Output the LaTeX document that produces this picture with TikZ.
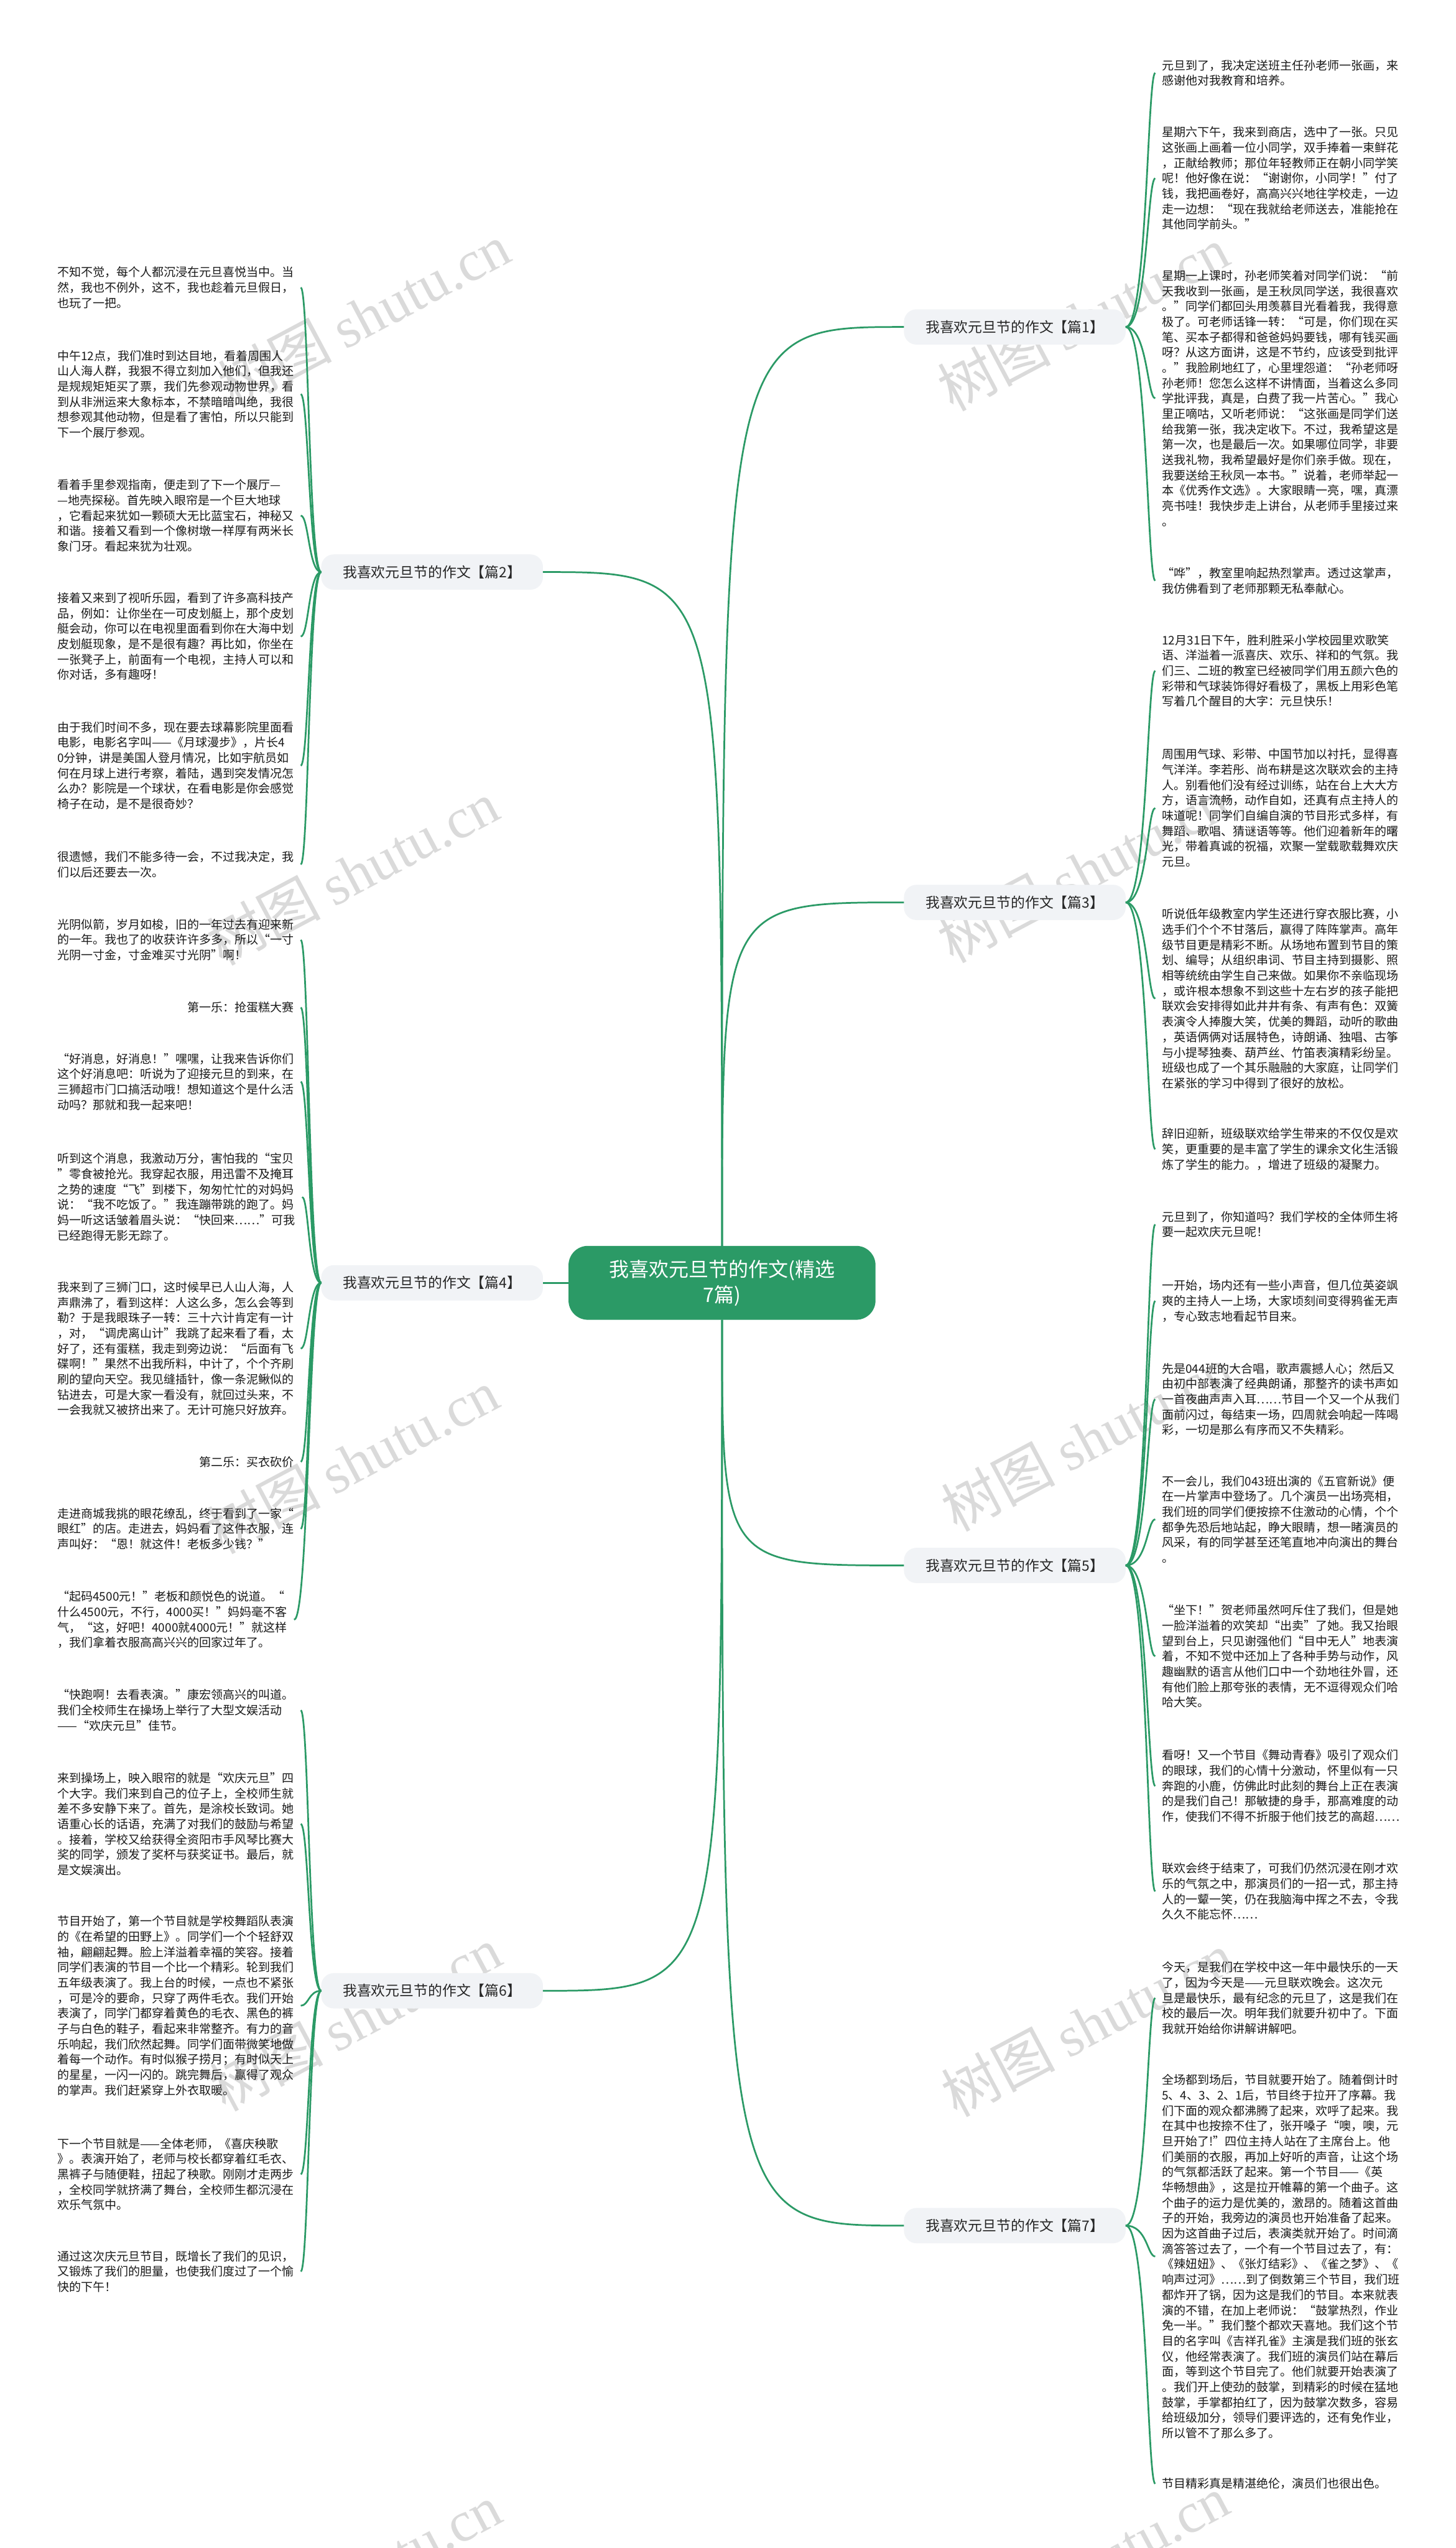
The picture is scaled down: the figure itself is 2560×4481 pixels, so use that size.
\documentclass[tikz,border=0pt]{standalone}
\usepackage{fontspec}
\setmainfont{Noto Sans CJK SC}
\newfontfamily\wmserif{Liberation Serif}
\usepackage{tikz}
\definecolor{mapgreen}{HTML}{2B9A66}
\definecolor{topicgray}{HTML}{F1F3F6}
\definecolor{wmgray}{HTML}{DADADA}

\begin{document}
\begin{tikzpicture}[
    x=1pt, y=-1pt,
    every node/.style={inner sep=0pt, outer sep=0pt},
    root/.style={fill=mapgreen, text=white, rounded corners=34pt, minimum width=540pt, minimum height=130pt, align=center, font=\fontsize{35}{45}\selectfont},
    topic/.style={fill=topicgray, text=black!85, rounded corners=22pt, minimum width=390pt, minimum height=62pt, font=\fontsize{25}{30}\selectfont},
    leaf/.style={align=left, anchor=north west, text=black!90, font=\fontsize{20.8}{27}\selectfont},
    leafend/.style={leaf, anchor=north east},
    wm/.style={text=wmgray, rotate=28, font=\fontsize{100}{110}\selectfont},
    link/.style={draw=mapgreen, line width=3pt}
]
\path[use as bounding box, fill=white] (0,0) rectangle (2560,4481);

\node[wm] (wm1) at (640,555) {树图 {\wmserif shutu.cn}};
\node[wm] (wm2) at (620,1535) {树图 {\wmserif shutu.cn}};
\node[wm] (wm3) at (620,2570) {树图 {\wmserif shutu.cn}};
\node[wm] (wm4) at (625,3550) {树图 {\wmserif shutu.cn}};
\node[wm] (wm5) at (625,4530) {树图 {\wmserif shutu.cn}};
\node[wm] (wm6) at (1905,560) {树图 {\wmserif shutu.cn}};
\node[wm] (wm7) at (1905,1530) {树图 {\wmserif shutu.cn}};
\node[wm] (wm8) at (1912,2530) {树图 {\wmserif shutu.cn}};
\node[wm] (wm9) at (1912,3560) {树图 {\wmserif shutu.cn}};
\node[wm] (wm10) at (1905,4515) {树图 {\wmserif shutu.cn}};

\node[root] (root) at (1270,2256) {我喜欢元旦节的作文(精选\\7篇)};
\node[topic] (pian1) at (1785,575) {我喜欢元旦节的作文【篇1】};
\node[topic] (pian2) at (760,1006) {我喜欢元旦节的作文【篇2】};
\node[topic] (pian3) at (1785,1587) {我喜欢元旦节的作文【篇3】};
\node[topic] (pian4) at (760,2256) {我喜欢元旦节的作文【篇4】};
\node[topic] (pian5) at (1785,2753) {我喜欢元旦节的作文【篇5】};
\node[topic] (pian6) at (760,3501) {我喜欢元旦节的作文【篇6】};
\node[topic] (pian7) at (1785,3914) {我喜欢元旦节的作文【篇7】};

\node[leaf] (p2-1) at (101,469) {不知不觉，每个人都沉浸在元旦喜悦当中。当\\然，我也不例外，这不，我也趁着元旦假日，\\也玩了一把。};
\node[leaf] (p2-2) at (101,616) {中午12点，我们准时到达目地，看着周围人\\山人海人群，我狠不得立刻加入他们，但我还\\是规规矩矩买了票，我们先参观动物世界，看\\到从非洲运来大象标本，不禁暗暗叫绝，我很\\想参观其他动物，但是看了害怕，所以只能到\\下一个展厅参观。};
\node[leaf] (p2-3) at (101,843) {看着手里参观指南，便走到了下一个展厅—\\—地壳探秘。首先映入眼帘是一个巨大地球\\，它看起来犹如一颗硕大无比蓝宝石，神秘又\\和谐。接着又看到一个像树墩一样厚有两米长\\象门牙。看起来犹为壮观。};
\node[leaf] (p2-4) at (101,1042) {接着又来到了视听乐园，看到了许多高科技产\\品，例如：让你坐在一可皮划艇上，那个皮划\\艇会动，你可以在电视里面看到你在大海中划\\皮划艇现象，是不是很有趣？再比如，你坐在\\一张凳子上，前面有一个电视，主持人可以和\\你对话，多有趣呀！};
\node[leaf] (p2-5) at (101,1269) {由于我们时间不多，现在要去球幕影院里面看\\电影，电影名字叫——《月球漫步》，片长4\\0分钟，讲是美国人登月情况，比如宇航员如\\何在月球上进行考察，着陆，遇到突发情况怎\\么办？影院是一个球状，在看电影是你会感觉\\椅子在动，是不是很奇妙？};
\node[leaf] (p2-6) at (101,1497) {很遗憾，我们不能多待一会，不过我决定，我\\们以后还要去一次。};

\node[leaf] (p4-1) at (101,1616) {光阴似箭，岁月如梭，旧的一年过去有迎来新\\的一年。我也了的收获许许多多，所以“一寸\\光阴一寸金，寸金难买寸光阴”啊！};
\node[leafend] (p4-2) at (517,1762) {第一乐：抢蛋糕大赛};
\node[leaf] (p4-3) at (101,1852) {“好消息，好消息！”嘿嘿，让我来告诉你们\\这个好消息吧：听说为了迎接元旦的到来，在\\三狮超市门口搞活动哦！想知道这个是什么活\\动吗？那就和我一起来吧！};
\node[leaf] (p4-4) at (101,2028) {听到这个消息，我激动万分，害怕我的“宝贝\\”零食被抢光。我穿起衣服，用迅雷不及掩耳\\之势的速度“飞”到楼下，匆匆忙忙的对妈妈\\说：“我不吃饭了。”我连蹦带跳的跑了。妈\\妈一听这话皱着眉头说：“快回来……”可我\\已经跑得无影无踪了。};
\node[leaf] (p4-5) at (101,2254) {我来到了三狮门口，这时候早已人山人海，人\\声鼎沸了，看到这样：人这么多，怎么会等到\\勒？于是我眼珠子一转：三十六计肯定有一计\\，对，“调虎离山计”我跳了起来看了看，太\\好了，还有蛋糕，我走到旁边说：“后面有飞\\碟啊！”果然不出我所料，中计了，个个齐刷\\刷的望向天空。我见缝插针，像一条泥鳅似的\\钻进去，可是大家一看没有，就回过头来，不\\一会我就又被挤出来了。无计可施只好放弃。};
\node[leafend] (p4-6) at (517,2561) {第二乐：买衣砍价};
\node[leaf] (p4-7) at (101,2652) {走进商城我挑的眼花缭乱，终于看到了一家“\\眼红”的店。走进去，妈妈看了这件衣服，连\\声叫好：“恩！就这件！老板多少钱？”};
\node[leaf] (p4-8) at (101,2798) {“起码4500元！”老板和颜悦色的说道。“\\什么4500元，不行，4000买！”妈妈毫不客\\气，“这，好吧！4000就4000元！”就这样\\，我们拿着衣服高高兴兴的回家过年了。};

\node[leaf] (p6-1) at (101,2971) {“快跑啊！去看表演。”康宏领高兴的叫道。\\我们全校师生在操场上举行了大型文娱活动\\——“欢庆元旦”佳节。};
\node[leaf] (p6-2) at (101,3117) {来到操场上，映入眼帘的就是“欢庆元旦”四\\个大字。我们来到自己的位子上，全校师生就\\差不多安静下来了。首先，是涂校长致词。她\\语重心长的话语，充满了对我们的鼓励与希望\\。接着，学校又给获得全资阳市手风琴比赛大\\奖的同学，颁发了奖杯与获奖证书。最后，就\\是文娱演出。};
\node[leaf] (p6-3) at (101,3369) {节目开始了，第一个节目就是学校舞蹈队表演\\的《在希望的田野上》。同学们一个个轻舒双\\袖，翩翩起舞。脸上洋溢着幸福的笑容。接着\\同学们表演的节目一个比一个精彩。轮到我们\\五年级表演了。我上台的时候，一点也不紧张\\，可是冷的要命，只穿了两件毛衣。我们开始\\表演了，同学门都穿着黄色的毛衣、黑色的裤\\子与白色的鞋子，看起来非常整齐。有力的音\\乐响起，我们欣然起舞。同学们面带微笑地做\\着每一个动作。有时似猴子捞月；有时似天上\\的星星，一闪一闪的。跳完舞后，赢得了观众\\的掌声。我们赶紧穿上外衣取暖。};
\node[leaf] (p6-4) at (101,3760) {下一个节目就是——全体老师，《喜庆秧歌\\》。表演开始了，老师与校长都穿着红毛衣、\\黑裤子与随便鞋，扭起了秧歌。刚刚才走两步\\，全校同学就挤满了舞台，全校师生都沉浸在\\欢乐气氛中。};
\node[leaf] (p6-5) at (101,3958) {通过这次庆元旦节目，既增长了我们的见识，\\又锻炼了我们的胆量，也使我们度过了一个愉\\快的下午！};

\node[leaf] (p1-1) at (2044,105) {元旦到了，我决定送班主任孙老师一张画，来\\感谢他对我教育和培养。};
\node[leaf] (p1-2) at (2044,223) {星期六下午，我来到商店，选中了一张。只见\\这张画上画着一位小同学，双手捧着一束鲜花\\，正献给教师；那位年轻教师正在朝小同学笑\\呢！他好像在说：“谢谢你，小同学！”付了\\钱，我把画卷好，高高兴兴地往学校走，一边\\走一边想：“现在我就给老师送去，准能抢在\\其他同学前头。”};
\node[leaf] (p1-3) at (2044,475) {星期一上课时，孙老师笑着对同学们说：“前\\天我收到一张画，是王秋凤同学送，我很喜欢\\。”同学们都回头用羡慕目光看着我，我得意\\极了。可老师话锋一转：“可是，你们现在买\\笔、买本子都得和爸爸妈妈要钱，哪有钱买画\\呀？从这方面讲，这是不节约，应该受到批评\\。”我脸刷地红了，心里埋怨道：“孙老师呀\\孙老师！您怎么这样不讲情面，当着这么多同\\学批评我，真是，白费了我一片苦心。”我心\\里正嘀咕，又听老师说：“这张画是同学们送\\给我第一张，我决定收下。不过，我希望这是\\第一次，也是最后一次。如果哪位同学，非要\\送我礼物，我希望最好是你们亲手做。现在，\\我要送给王秋凤一本书。”说着，老师举起一\\本《优秀作文选》。大家眼睛一亮，嘿，真漂\\亮书哇！我快步走上讲台，从老师手里接过来\\。};
\node[leaf] (p1-4) at (2044,998) {“哗”，教室里响起热烈掌声。透过这掌声，\\我仿佛看到了老师那颗无私奉献心。};

\node[leaf] (p3-1) at (2044,1116) {12月31日下午，胜利胜采小学校园里欢歌笑\\语、洋溢着一派喜庆、欢乐、祥和的气氛。我\\们三、二班的教室已经被同学们用五颜六色的\\彩带和气球装饰得好看极了，黑板上用彩色笔\\写着几个醒目的大字：元旦快乐！};
\node[leaf] (p3-2) at (2044,1317) {周围用气球、彩带、中国节加以衬托，显得喜\\气洋洋。李若彤、尚布耕是这次联欢会的主持\\人。别看他们没有经过训练，站在台上大大方\\方，语言流畅，动作自如，还真有点主持人的\\味道呢！同学们自编自演的节目形式多样，有\\舞蹈、歌唱、猜谜语等等。他们迎着新年的曙\\光，带着真诚的祝福，欢聚一堂载歌载舞欢庆\\元旦。};
\node[leaf] (p3-3) at (2044,1598) {听说低年级教室内学生还进行穿衣服比赛，小\\选手们个个不甘落后，赢得了阵阵掌声。高年\\级节目更是精彩不断。从场地布置到节目的策\\划、编导；从组织串词、节目主持到摄影、照\\相等统统由学生自己来做。如果你不亲临现场\\，或许根本想象不到这些十左右岁的孩子能把\\联欢会安排得如此井井有条、有声有色：双簧\\表演令人捧腹大笑，优美的舞蹈，动听的歌曲\\，英语俩俩对话展特色，诗朗诵、独唱、古筝\\与小提琴独奏、葫芦丝、竹笛表演精彩纷呈。\\班级也成了一个其乐融融的大家庭，让同学们\\在紧张的学习中得到了很好的放松。};
\node[leaf] (p3-4) at (2044,1984) {辞旧迎新，班级联欢给学生带来的不仅仅是欢\\笑，更重要的是丰富了学生的课余文化生活锻\\炼了学生的能力。，增进了班级的凝聚力。};

\node[leaf] (p5-1) at (2044,2130) {元旦到了，你知道吗？我们学校的全体师生将\\要一起欢庆元旦呢！};
\node[leaf] (p5-2) at (2044,2251) {一开始，场内还有一些小声音，但几位英姿飒\\爽的主持人一上场，大家顷刻间变得鸦雀无声\\，专心致志地看起节目来。};
\node[leaf] (p5-3) at (2044,2397) {先是044班的大合唱，歌声震撼人心；然后又\\由初中部表演了经典朗诵，那整齐的读书声如\\一首夜曲声声入耳……节目一个又一个从我们\\面前闪过，每结束一场，四周就会响起一阵喝\\彩，一切是那么有序而又不失精彩。};
\node[leaf] (p5-4) at (2044,2595) {不一会儿，我们043班出演的《五官新说》便\\在一片掌声中登场了。几个演员一出场亮相，\\我们班的同学们便按捺不住激动的心情，个个\\都争先恐后地站起，睁大眼睛，想一睹演员的\\风采，有的同学甚至还笔直地冲向演出的舞台\\。};
\node[leaf] (p5-5) at (2044,2822) {“坐下！”贺老师虽然呵斥住了我们，但是她\\一脸洋溢着的欢笑却“出卖”了她。我又抬眼\\望到台上，只见谢强他们“目中无人”地表演\\着，不知不觉中还加上了各种手势与动作，风\\趣幽默的语言从他们口中一个劲地往外冒，还\\有他们脸上那夸张的表情，无不逗得观众们哈\\哈大笑。};
\node[leaf] (p5-6) at (2044,3077) {看呀！又一个节目《舞动青春》吸引了观众们\\的眼球，我们的心情十分激动，怀里似有一只\\奔跑的小鹿，仿佛此时此刻的舞台上正在表演\\的是我们自己！那敏捷的身手，那高难度的动\\作，使我们不得不折服于他们技艺的高超……};
\node[leaf] (p5-7) at (2044,3276) {联欢会终于结束了，可我们仍然沉浸在刚才欢\\乐的气氛之中，那演员们的一招一式，那主持\\人的一颦一笑，仍在我脑海中挥之不去，令我\\久久不能忘怀……};

\node[leaf] (p7-1) at (2044,3450) {今天，是我们在学校中这一年中最快乐的一天\\了，因为今天是——元旦联欢晚会。这次元\\旦是最快乐，最有纪念的元旦了，这是我们在\\校的最后一次。明年我们就要升初中了。下面\\我就开始给你讲解讲解吧。};
\node[leaf] (p7-2) at (2044,3648) {全场都到场后，节目就要开始了。随着倒计时\\5、4、3、2、1后，节目终于拉开了序幕。我\\们下面的观众都沸腾了起来，欢呼了起来。我\\在其中也按捺不住了，张开嗓子“噢，噢，元\\旦开始了!”四位主持人站在了主席台上。他\\们美丽的衣服，再加上好听的声音，让这个场\\的气氛都活跃了起来。第一个节目——《英\\华畅想曲》，这是拉开帷幕的第一个曲子。这\\个曲子的运力是优美的，激昂的。随着这首曲\\子的开始，我旁边的演员也开始准备了起来。\\因为这首曲子过后，表演类就开始了。时间滴\\滴答答过去了，一个有一个节目过去了，有：\\《辣妞妞》、《张灯结彩》、《雀之梦》、《\\响声过河》……到了倒数第三个节目，我们班\\都炸开了锅，因为这是我们的节目。本来就表\\演的不错，在加上老师说：“鼓掌热烈，作业\\免一半。”我们整个都欢天喜地。我们这个节\\目的名字叫《吉祥孔雀》主演是我们班的张玄\\仪，他经常表演了。我们班的演员们站在幕后\\面，等到这个节目完了。他们就要开始表演了\\。我们开上使劲的鼓掌，到精彩的时候在猛地\\鼓掌，手掌都拍红了，因为鼓掌次数多，容易\\给班级加分，领导们要评选的，还有免作业，\\所以管不了那么多了。};
\node[leaf] (p7-3) at (2044,4358) {节目精彩真是精湛绝伦，演员们也很出色。};

\coordinate (bend1) at ([xshift=38pt]pian1.east);
\coordinate (bend2) at ([xshift=-22pt]pian2.west);
\coordinate (bend3) at ([xshift=38pt]pian3.east);
\coordinate (bend4) at ([xshift=-22pt]pian4.west);
\coordinate (bend5) at ([xshift=38pt]pian5.east);
\coordinate (bend6) at ([xshift=-22pt]pian6.west);
\coordinate (bend7) at ([xshift=38pt]pian7.east);

\draw[link] (root.north) .. controls (root.north |- pian1.west) and (root.north |- pian1.west) .. (pian1.west);
\draw[link] (root.north) .. controls (root.north |- pian2.east) and (root.north |- pian2.east) .. (pian2.east);
\draw[link] (root.north) .. controls (root.north |- pian3.west) and (root.north |- pian3.west) .. (pian3.west);
\draw[link] (root.west) -- (pian4.east);
\draw[link] (root.south) .. controls (root.south |- pian5.west) and (root.south |- pian5.west) .. (pian5.west);
\draw[link] (root.south) .. controls (root.south |- pian6.east) and (root.south |- pian6.east) .. (pian6.east);
\draw[link] (root.south) .. controls (root.south |- pian7.west) and (root.south |- pian7.west) .. (pian7.west);

\draw[link] (pian2.west) .. controls (bend2) and (bend2 |- p2-1.east) .. ([xshift=12pt]p2-1.east);
\draw[link] (pian2.west) .. controls (bend2) and (bend2 |- p2-2.east) .. ([xshift=12pt]p2-2.east);
\draw[link] (pian2.west) .. controls (bend2) and (bend2 |- p2-3.east) .. ([xshift=12pt]p2-3.east);
\draw[link] (pian2.west) .. controls (bend2) and (bend2 |- p2-4.east) .. ([xshift=12pt]p2-4.east);
\draw[link] (pian2.west) .. controls (bend2) and (bend2 |- p2-5.east) .. ([xshift=12pt]p2-5.east);
\draw[link] (pian2.west) .. controls (bend2) and (bend2 |- p2-6.east) .. ([xshift=12pt]p2-6.east);

\draw[link] (pian4.west) .. controls (bend4) and (bend4 |- p4-1.east) .. ([xshift=12pt]p4-1.east);
\draw[link] (pian4.west) .. controls (bend4) and (bend4 |- p4-2.east) .. ([xshift=12pt]p4-2.east);
\draw[link] (pian4.west) .. controls (bend4) and (bend4 |- p4-3.east) .. ([xshift=12pt]p4-3.east);
\draw[link] (pian4.west) .. controls (bend4) and (bend4 |- p4-4.east) .. ([xshift=12pt]p4-4.east);
\draw[link] (pian4.west) .. controls (bend4) and (bend4 |- p4-5.east) .. ([xshift=12pt]p4-5.east);
\draw[link] (pian4.west) .. controls (bend4) and (bend4 |- p4-6.east) .. ([xshift=12pt]p4-6.east);
\draw[link] (pian4.west) .. controls (bend4) and (bend4 |- p4-7.east) .. ([xshift=12pt]p4-7.east);
\draw[link] (pian4.west) .. controls (bend4) and (bend4 |- p4-8.east) .. ([xshift=12pt]p4-8.east);

\draw[link] (pian6.west) .. controls (bend6) and (bend6 |- p6-1.east) .. ([xshift=12pt]p6-1.east);
\draw[link] (pian6.west) .. controls (bend6) and (bend6 |- p6-2.east) .. ([xshift=12pt]p6-2.east);
\draw[link] (pian6.west) .. controls (bend6) and (bend6 |- p6-3.east) .. ([xshift=12pt]p6-3.east);
\draw[link] (pian6.west) .. controls (bend6) and (bend6 |- p6-4.east) .. ([xshift=12pt]p6-4.east);
\draw[link] (pian6.west) .. controls (bend6) and (bend6 |- p6-5.east) .. ([xshift=12pt]p6-5.east);

\draw[link] (pian1.east) .. controls (bend1) and (bend1 |- p1-1.west) .. ([xshift=-12pt]p1-1.west);
\draw[link] (pian1.east) .. controls (bend1) and (bend1 |- p1-2.west) .. ([xshift=-12pt]p1-2.west);
\draw[link] (pian1.east) .. controls (bend1) and (bend1 |- p1-3.west) .. ([xshift=-12pt]p1-3.west);
\draw[link] (pian1.east) .. controls (bend1) and (bend1 |- p1-4.west) .. ([xshift=-12pt]p1-4.west);

\draw[link] (pian3.east) .. controls (bend3) and (bend3 |- p3-1.west) .. ([xshift=-12pt]p3-1.west);
\draw[link] (pian3.east) .. controls (bend3) and (bend3 |- p3-2.west) .. ([xshift=-12pt]p3-2.west);
\draw[link] (pian3.east) .. controls (bend3) and (bend3 |- p3-3.west) .. ([xshift=-12pt]p3-3.west);
\draw[link] (pian3.east) .. controls (bend3) and (bend3 |- p3-4.west) .. ([xshift=-12pt]p3-4.west);

\draw[link] (pian5.east) .. controls (bend5) and (bend5 |- p5-1.west) .. ([xshift=-12pt]p5-1.west);
\draw[link] (pian5.east) .. controls (bend5) and (bend5 |- p5-2.west) .. ([xshift=-12pt]p5-2.west);
\draw[link] (pian5.east) .. controls (bend5) and (bend5 |- p5-3.west) .. ([xshift=-12pt]p5-3.west);
\draw[link] (pian5.east) .. controls (bend5) and (bend5 |- p5-4.west) .. ([xshift=-12pt]p5-4.west);
\draw[link] (pian5.east) .. controls (bend5) and (bend5 |- p5-5.west) .. ([xshift=-12pt]p5-5.west);
\draw[link] (pian5.east) .. controls (bend5) and (bend5 |- p5-6.west) .. ([xshift=-12pt]p5-6.west);
\draw[link] (pian5.east) .. controls (bend5) and (bend5 |- p5-7.west) .. ([xshift=-12pt]p5-7.west);

\draw[link] (pian7.east) .. controls (bend7) and (bend7 |- p7-1.west) .. ([xshift=-12pt]p7-1.west);
\draw[link] (pian7.east) .. controls (bend7) and (bend7 |- p7-2.west) .. ([xshift=-12pt]p7-2.west);
\draw[link] (pian7.east) .. controls (bend7) and (bend7 |- p7-3.west) .. ([xshift=-12pt]p7-3.west);
\end{tikzpicture}
\end{document}
